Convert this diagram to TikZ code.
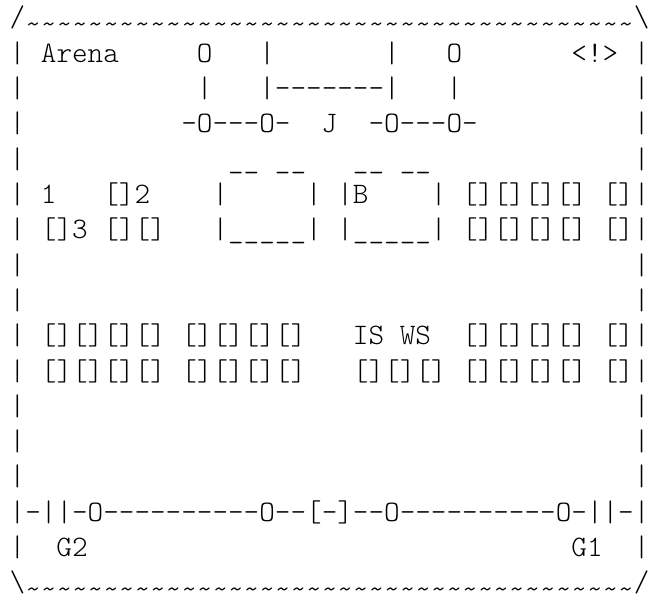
\documentclass[tikz,border=0pt]{standalone}
\usepackage{tikz}
\usepackage{fontspec}
\setmonofont{lmmonolt10-regular.otf}

\tikzset{every picture/.style={line width=0.75pt}}
\tikzset{asciirow/.style={anchor=base west,inner sep=0pt,font=\fontsize{22.29pt}{26pt}\selectfont\ttfamily\frenchspacing}}

\newcommand\waves{\foreach \w in {1,...,39}{\raisebox{-0.22em}{\textasciitilde}}}

\begingroup
\obeyspaces\global\let =\space%
\gdef\rowA{/\waves\textbackslash}%
\gdef\rowB{| Arena     O   |       |   O       <!> |}%
\gdef\rowC{|           |   |-------|   |           |}%
\gdef\rowD{|          -O---O-  J  -O---O-          |}%
\gdef\rowE{|             \_\_ \_\_   \_\_ \_\_             |}%
\gdef\rowF{| 1   []2    |     | |B    | [][][][] []|}%
\gdef\rowG{| []3 [][]   |\_\_\_\_\_| |\_\_\_\_\_| [][][][] []|}%
\gdef\rowH{|                                       |}%
\gdef\rowJ{| [][][][] [][][][]   IS WS  [][][][] []|}%
\gdef\rowK{| [][][][] [][][][]   [][][] [][][][] []|}%
\gdef\rowL{|-||-O----------O--[-]--O----------O-||-|}%
\gdef\rowM{|  G2                               G1  |}%
\gdef\rowN{\textbackslash\waves/}%
\endgroup

\begin{document}
\begin{tikzpicture}[x=0.75pt,y=0.75pt,yscale=-1,xscale=1]
\useasboundingbox (0,0) rectangle (650,606);

% Text Node
\draw (9.2,27) node (topedge) [asciirow] {\rowA};
% Text Node
\draw (9.2,62.3) node (arena) [asciirow] {\rowB};
% Text Node
\draw (9.2,97.6) node (bars) [asciirow] {\rowC};
% Text Node
\draw (9.2,132.9) node (joints) [asciirow] {\rowD};
% Text Node
\draw (9.2,168.2) node (boxtops) [asciirow] {\rowE};
% Text Node
\draw (9.2,203.5) node (rowone) [asciirow] {\rowF};
% Text Node
\draw (9.2,238.8) node (rowthree) [asciirow] {\rowG};
% Text Node
\draw (9.2,274.1) node (blanka) [asciirow] {\rowH};
% Text Node
\draw (9.2,309.4) node (blankb) [asciirow] {\rowH};
% Text Node
\draw (9.2,344.7) node (iswsrow) [asciirow] {\rowJ};
% Text Node
\draw (9.2,380) node (seatrow) [asciirow] {\rowK};
% Text Node
\draw (9.2,415.3) node (blankc) [asciirow] {\rowH};
% Text Node
\draw (9.2,450.6) node (blankd) [asciirow] {\rowH};
% Text Node
\draw (9.2,485.9) node (blanke) [asciirow] {\rowH};
% Text Node
\draw (9.2,521.2) node (goalline) [asciirow] {\rowL};
% Text Node
\draw (9.2,556.5) node (goals) [asciirow] {\rowM};
% Text Node
\draw (9.2,591.8) node (bottomedge) [asciirow] {\rowN};

\end{tikzpicture}
\end{document}
